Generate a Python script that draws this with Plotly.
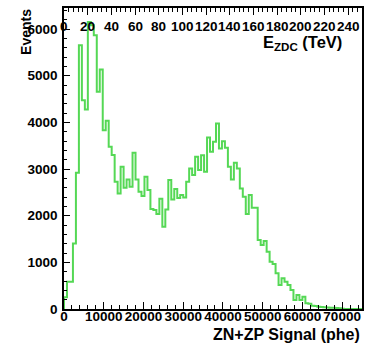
import numpy as np
import plotly.graph_objects as go

# ---- data ----
signal_min = 0
signal_max = 75000
n_bins = 100
counts = [250, 585, 585, 1406, 2918, 5653, 4475, 4275, 6150, 6080,
          5867, 4653, 5132, 3833, 4032, 3475, 3298, 2726, 2477, 3047,
          2598, 2777, 2619, 3347, 2777, 2512, 2420, 2833, 2548, 2141,
          2120, 2034, 2362, 1763, 2134, 2762, 2348, 2569, 2376, 2441,
          2391, 2726, 3012, 2869, 3261, 2976, 3297, 2940, 3676, 3368,
          3583, 3975, 3441, 3597, 3454, 3047, 2777, 3133, 3013, 2584,
          2405, 2034, 2441, 2169, 2169, 1477, 1370, 1456, 1227, 1013,
          964, 764, 514, 657, 585, 514, 407, 193, 300, 193,
          264, 122, 115, 72, 64, 50, 45, 35, 30, 28,
          25, 20, 15, 8, 0, 0, 0, 0, 0, 0]
y_max = 6450
tev_max = 251.8  # top axis (E_ZDC in TeV) spanning the same width
tev_ticks = [0, 20, 40, 60, 80, 100, 120, 140, 160, 180, 200, 220, 240]

edges = list(np.linspace(signal_min, signal_max, n_bins + 1))
xs = [edges[0]] + edges
ys = [0] + counts + [counts[-1]]

FONT = "Liberation Sans"
tick_font = dict(family=FONT, size=13.5, color="black", weight="bold")

fig = go.Figure()
fig.add_trace(go.Scatter(
    x=xs, y=ys, mode="lines", line=dict(color="#55d855", width=2, shape="hv"),
    hoverinfo="skip", showlegend=False, cliponaxis=False))
fig.add_trace(go.Scatter(
    x=[0], y=[0], xaxis="x2", yaxis="y", mode="markers",
    marker=dict(opacity=0), hoverinfo="skip", showlegend=False))

annotations = [
    dict(text="ZN+ZP Signal (phe)", xref="paper", yref="paper", x=1.0, y=-0.086,
         xanchor="right", yanchor="middle", showarrow=False,
         font=dict(family=FONT, size=16, color="black", weight="bold")),
    dict(text="Events", xref="paper", yref="paper", x=-0.128, y=1.003,
         xanchor="center", yanchor="top", textangle=-90, showarrow=False,
         font=dict(family=FONT, size=14, color="black", weight="bold")),
    dict(text="E<sub>ZDC</sub> (TeV)", xref="paper", yref="paper", x=0.94, y=0.885,
         xanchor="right", yanchor="middle", showarrow=False,
         font=dict(family=FONT, size=16.5, color="black", weight="bold")),
]
for t in tev_ticks:
    annotations.append(dict(
        text=str(t), xref="x2", yref="paper", x=t, y=0.937,
        xanchor="center", yanchor="middle", showarrow=False,
        font=tick_font))

fig.update_layout(
    width=373, height=348,
    margin=dict(l=64, r=11, t=8, b=39, pad=0),
    paper_bgcolor="white", plot_bgcolor="white",
    xaxis=dict(
        range=[signal_min, signal_max], tick0=0, dtick=10000, tickformat="d",
        tickangle=0,
        ticks="inside", ticklen=7, tickwidth=1.3, tickcolor="black",
        minor=dict(dtick=2000, ticks="inside", ticklen=4, tickwidth=1.1, tickcolor="black"),
        showline=True, linecolor="black", linewidth=1.5, mirror=False,
        showgrid=False, zeroline=False, tickfont=tick_font, ticklabelstandoff=-6),
    xaxis2=dict(
        overlaying="x", side="top", anchor="y", range=[0, tev_max], tick0=0, dtick=20,
        ticks="inside", ticklen=7, tickwidth=1.3, tickcolor="black",
        minor=dict(dtick=4, ticks="inside", ticklen=4, tickwidth=1.1, tickcolor="black"),
        showticklabels=False, showline=True, linecolor="black", linewidth=1.5,
        showgrid=False, zeroline=False),
    yaxis=dict(
        range=[0, y_max], tick0=0, dtick=1000, tickformat="d",
        ticks="inside", ticklen=6, tickwidth=1.3, tickcolor="black",
        minor=dict(dtick=200, ticks="inside", ticklen=3, tickwidth=1.1, tickcolor="black"),
        showline=True, linecolor="black", linewidth=1.5, mirror=True,
        showgrid=False, zeroline=False, tickfont=tick_font, ticklabelstandoff=2),
    annotations=annotations,
)

fig.write_html("out.html")
